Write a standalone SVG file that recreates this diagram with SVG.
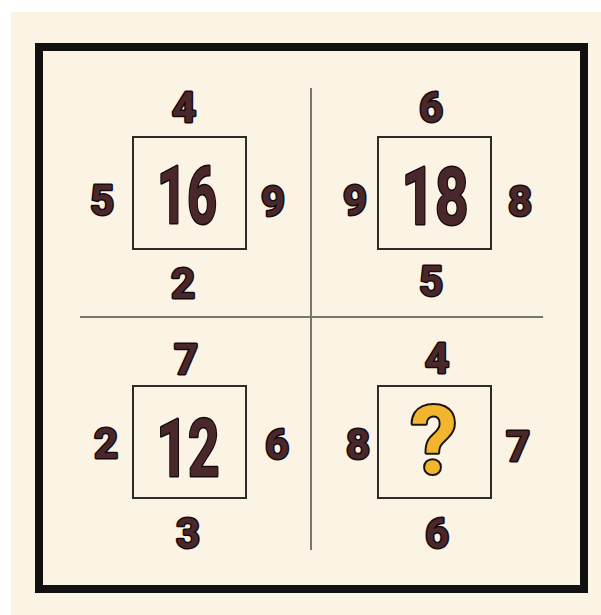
<svg xmlns="http://www.w3.org/2000/svg" width="601" height="615" viewBox="0 0 601 615">
<style>
.num{font-family:Roboto,"Liberation Sans",sans-serif;font-weight:700;fill:#4a272b;stroke:#140c0c;stroke-width:3;paint-order:stroke;stroke-linejoin:round;text-anchor:middle}
.sm{font-size:42px}
.big{font-size:80px}
.q{font-family:Roboto,"Liberation Sans",sans-serif;font-weight:700;font-size:94px;fill:#f2b52e;stroke:#1a1210;stroke-width:4;paint-order:stroke;stroke-linejoin:round;text-anchor:middle}
.box{fill:none;stroke:#2e2a28;stroke-width:2}
.div{stroke:#7a756d;stroke-width:2}
</style>
<rect x="0" y="0" width="601" height="615" fill="#ffffff"/>
<rect x="11" y="12" width="590" height="603" fill="#fbf3e4"/>
<rect id="frame" x="39" y="47" width="545" height="542" fill="none" stroke="#111" stroke-width="8"/>
<g id="connectors">
<line class="div" x1="311" y1="88" x2="311" y2="550"/>
<line class="div" x1="80" y1="317" x2="543" y2="317"/>
</g>
<g id="tl">
<rect class="box" x="133" y="137" width="113" height="112"/>
<text class="num big" x="187" y="223" textLength="60" lengthAdjust="spacingAndGlyphs">16</text>
<text class="num sm" x="184" y="122">4</text>
<text class="num sm" x="102" y="215">5</text>
<text class="num sm" x="273" y="216">9</text>
<text class="num sm" x="183" y="298">2</text>
</g>
<g id="tr">
<rect class="box" x="378" y="137" width="113" height="112"/>
<text class="num big" x="435" y="224" textLength="67" lengthAdjust="spacingAndGlyphs">18</text>
<text class="num sm" x="431" y="122">6</text>
<text class="num sm" x="355" y="215">9</text>
<text class="num sm" x="520" y="216">8</text>
<text class="num sm" x="431" y="296">5</text>
</g>
<g id="bl">
<rect class="box" x="133" y="386" width="113" height="112"/>
<text class="num big" x="188" y="476" textLength="63" lengthAdjust="spacingAndGlyphs">12</text>
<text class="num sm" x="186" y="374">7</text>
<text class="num sm" x="106" y="458">2</text>
<text class="num sm" x="277" y="459">6</text>
<text class="num sm" x="188" y="548">3</text>
</g>
<g id="br">
<rect class="box" x="378" y="386" width="113" height="112"/>
<text class="q" x="434" y="473">?</text>
<text class="num sm" x="437" y="373">4</text>
<text class="num sm" x="358" y="459">8</text>
<text class="num sm" x="518" y="461">7</text>
<text class="num sm" x="437" y="548">6</text>
</g>
</svg>
